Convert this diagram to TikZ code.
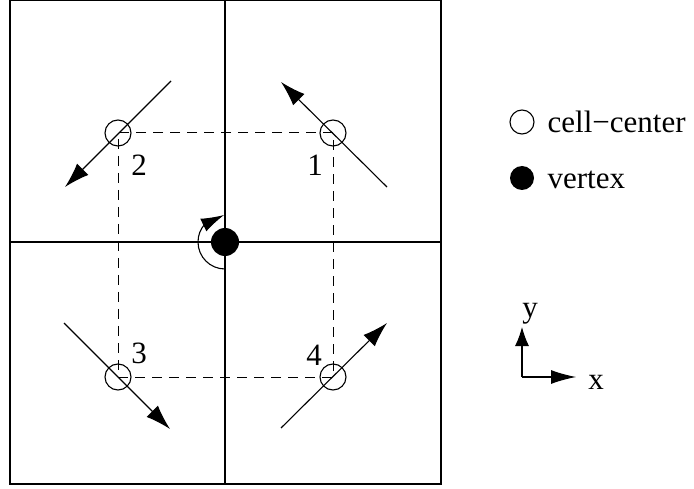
\documentclass[tikz,border=0pt]{standalone}
\usepackage{fontspec}
\setmainfont{Liberation Serif}
\usetikzlibrary{arrows.meta,bending}
\begin{document}
\begin{tikzpicture}[x=1pt,y=-1pt,line width=1.3pt,
  lbl/.style={font=\fontsize{31}{32}\selectfont,inner sep=0pt},
  cc/.style={circle,draw,line width=1.1pt,minimum size=26pt,inner sep=0pt},
  vx/.style={circle,fill,minimum size=28pt,inner sep=0pt},
  vec/.style={line width=1.1pt,-{Latex[length=25pt,width=16pt]}},
  grid/.style={dashed,dash pattern=on 10pt off 7pt,line width=1pt}]
\useasboundingbox (0,0) rectangle (694,489);
% frame and cell faces
\draw (10,0.8) rectangle (441,484);
\coordinate (T) at (225,0.8);
\coordinate (B) at (225,484);
\coordinate (L) at (10,242);
\coordinate (R) at (441,242);
\draw (T) -- (B);
\draw (L) -- (R);
% dashed control volume
\coordinate (c1) at (333,133);
\coordinate (c2) at (118,133);
\coordinate (c3) at (118,377);
\coordinate (c4) at (333,377);
\draw[grid] (c1) -- (c2) -- (c3) -- (c4) -- cycle;
% cell centres
\node[cc] (n1) at (c1) {};
\node[cc] (n2) at (c2) {};
\node[cc] (n3) at (c3) {};
\node[cc] (n4) at (c4) {};
\node[lbl] (l1) at (315,165) {1};
\node[lbl] (l2) at (139,165) {2};
\node[lbl] (l3) at (139,353) {3};
\node[lbl] (l4) at (314,355) {4};
% vectors
\coordinate (a1s) at (387,187); \coordinate (a1e) at (281,82);
\coordinate (a2s) at (171,81);  \coordinate (a2e) at (65,187);
\coordinate (a3s) at (64,323);  \coordinate (a3e) at (170,429);
\coordinate (a4s) at (281,428); \coordinate (a4e) at (387,323);
\draw[vec] (a1s) -- (a1e);
\draw[vec] (a2s) -- (a2e);
\draw[vec] (a3s) -- (a3e);
\draw[vec] (a4s) -- (a4e);
% vertex and rotation arrow
\node[vx] (v) at (225,242) {};
\draw[line width=1.1pt,-{Latex[length=23pt,width=14pt,flex]}] (225,269) arc[start angle=-90,end angle=-268,radius=27pt];
% legend
\node[cc,minimum size=24pt] (lc) at (522,122) {};
\node[lbl,anchor=base west] (tc) at (547,133) {cell−center};
\node[vx,minimum size=24pt] (lv) at (522,178) {};
\node[lbl,anchor=base west] (tv) at (547,189) {vertex};
% axes
\coordinate (o) at (522,377);
\coordinate (oy) at (522,327);
\coordinate (ox) at (576,377);
\draw[line width=1.1pt,-{Latex[length=19pt,width=14pt]}] (o) -- (oy);
\draw[line width=1.1pt,-{Latex[length=25pt,width=14pt]}] (o) -- (ox);
\node[lbl] (ly) at (530,314) {y};
\node[lbl] (lx) at (596,382) {x};
\end{tikzpicture}
\end{document}
